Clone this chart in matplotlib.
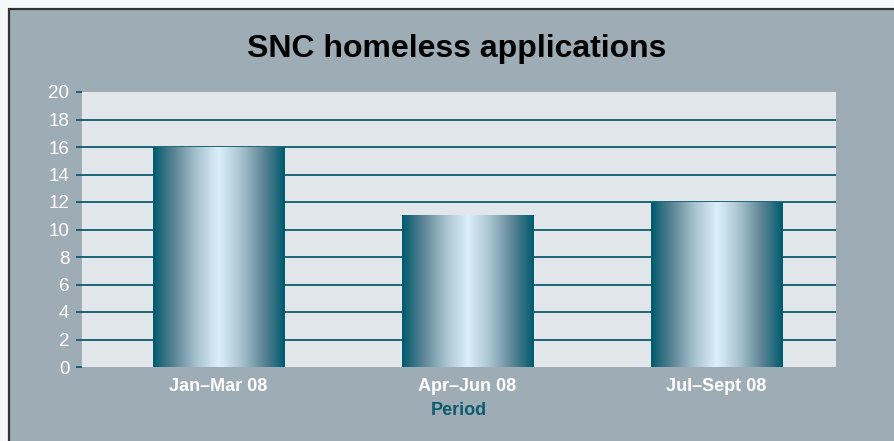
import numpy as np
import matplotlib.pyplot as plt
from matplotlib.patches import Rectangle
from matplotlib.colors import LinearSegmentedColormap

periods = ['Jan\u2013Mar 08', 'Apr\u2013Jun 08', 'Jul\u2013Sept 08']
applications = [16, 11, 12]
y_ticks = list(range(0, 21, 2))

W, H = 895, 441
fig = plt.figure(figsize=(W / 100, H / 100), dpi=100)
fig.patch.set_facecolor('#f5f7f9')

# grey panel with dark border, cut off at right and bottom
panel = Rectangle((9 / W, -0.05), 1.0, (H - 9) / H + 0.05, transform=fig.transFigure,
                  facecolor='#9eacb5', edgecolor='#333333', linewidth=1.6, zorder=0)
fig.add_artist(panel)

ax = fig.add_axes([82 / W, 1 - 367 / H, (836 - 82) / W, (367 - 92) / H])
ax.set_facecolor('#e2e7eb')

for y in y_ticks[1:-1]:
    ax.axhline(y, color='#0e5a6e', linewidth=1.3, zorder=1)

cmap = LinearSegmentedColormap.from_list('metal', ['#005a6e', '#5f8797', '#a9c4d0', '#dcf0fa',
                                                   '#a9c4d0', '#5f8797', '#005a6e'])
grad = np.linspace(0, 1, 256).reshape(1, -1)
bar_w = 0.526
for i, v in enumerate(applications):
    ax.imshow(grad, cmap=cmap, aspect='auto', interpolation='bilinear',
              extent=(i - bar_w / 2, i + bar_w / 2, 0, v), zorder=2)
ax.set_xlim(-0.546, 2.48)
ax.set_ylim(0, 20)

for s in ax.spines.values():
    s.set_visible(False)

ax.set_yticks(y_ticks)
ax.set_yticklabels([str(t) for t in y_ticks], color='white', fontsize=13.5,
                   fontfamily='Liberation Sans')
ax.tick_params(axis='y', length=4, width=1.3, color='#0e5a6e', pad=5)
ax.set_xticks(range(len(periods)))
ax.set_xticklabels(periods, color='white', fontsize=13, fontweight='bold',
                   fontfamily='Liberation Sans')
ax.tick_params(axis='x', length=0, pad=8)
ax.set_xlabel('Period', color='#0e5a6e', fontsize=13, fontweight='bold',
              fontfamily='Liberation Sans', labelpad=5)

fig.text(457 / W, 1 - 49 / H, 'SNC homeless applications', ha='center', va='center',
         fontsize=23, fontweight='bold', fontfamily='Liberation Sans', color='black')

fig.savefig('out.png', dpi=100, facecolor=fig.get_facecolor())
